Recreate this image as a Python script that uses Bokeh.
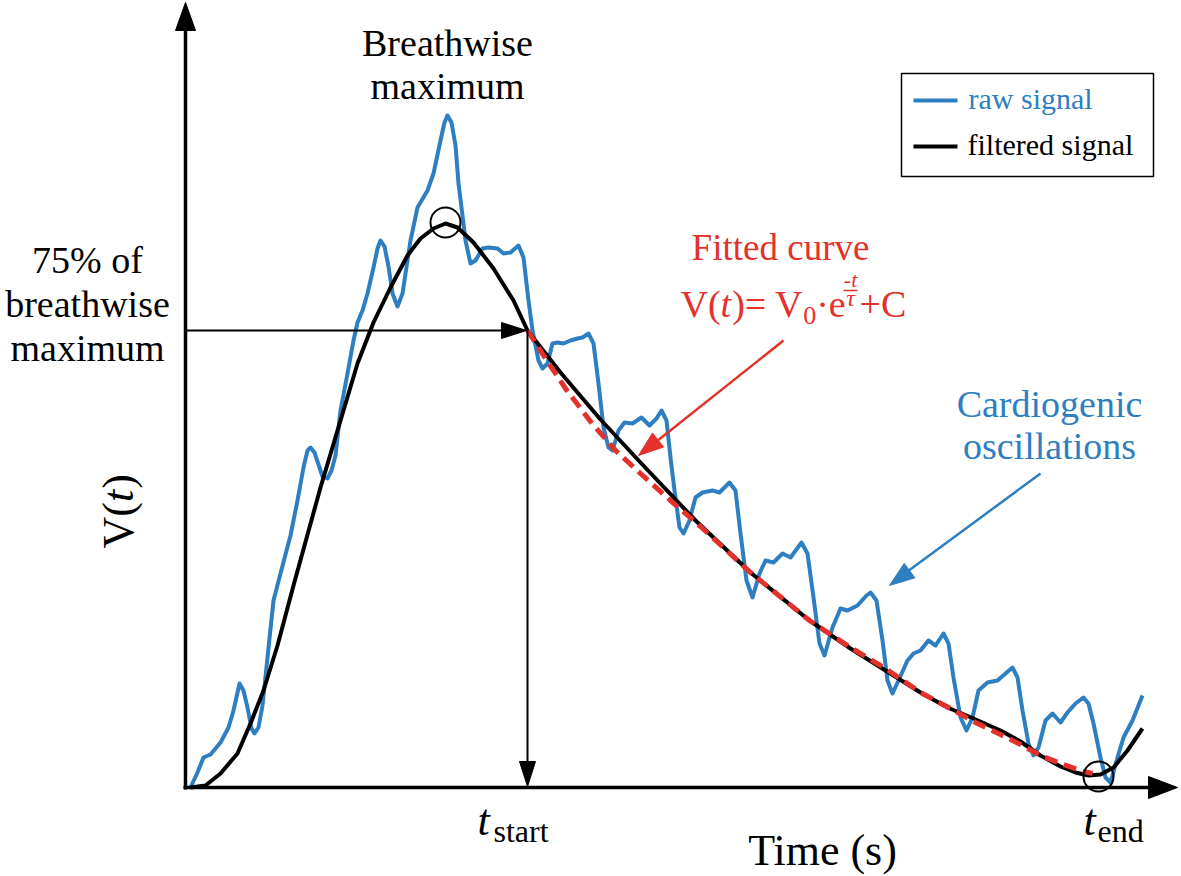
import math
from bokeh.plotting import figure
from bokeh.models import Range1d
from bokeh.core.properties import value
from bokeh.embed import file_html
from bokeh.resources import INLINE

# ---------------- data (arbitrary units: time since breath start, volume above baseline) -------------
raw_time = [5, 12, 18, 25, 35, 43, 48, 54, 58, 62,
            66, 69, 73, 77, 82, 88, 95, 105, 112, 118,
            122, 125, 129, 133, 137, 142, 146, 150, 155, 162,
            168, 172, 177, 182, 188, 192, 195, 199, 203, 207,
            212, 217, 225, 232, 242, 248, 255, 259, 262, 266,
            270, 273, 277, 280, 285, 290, 297, 303, 312, 318,
            325, 333, 338, 343, 347, 350, 353, 357, 362, 367,
            372, 378, 385, 392, 397, 403, 408, 413, 418, 423,
            427, 433, 439, 447, 456, 464, 471, 476, 481, 485,
            489, 494, 498, 504, 510, 517, 527, 534, 544, 550,
            555, 561, 567, 574, 580, 588, 597, 605, 616, 622,
            628, 634, 639, 647, 655, 662, 672, 681, 685, 691,
            697, 702, 707, 713, 722, 728, 735, 743, 750, 758,
            763, 768, 775, 781, 787, 793, 802, 812, 820, 827,
            832, 837, 843, 848, 853, 860, 867, 875, 882, 890,
            898, 903, 908, 915, 920, 925, 932, 938, 947, 957]
raw_volume = [0, 15, 30, 33, 45, 60, 77, 104, 97, 80,
              59, 54, 60, 82, 130, 187, 214, 252, 287, 320,
              337, 340, 335, 323, 311, 309, 317, 332, 377, 414,
              447, 465, 477, 494, 520, 539, 547, 541, 521, 494,
              481, 494, 547, 580, 597, 614, 647, 665, 672, 665,
              642, 604, 572, 547, 524, 527, 539, 540, 539, 534,
              535, 542, 530, 487, 457, 442, 427, 419, 424, 444,
              445, 444, 447, 449, 450, 454, 444, 404, 360, 340,
              337, 357, 365, 364, 370, 362, 369, 377, 367, 330,
              297, 260, 254, 267, 290, 295, 297, 295, 305, 297,
              254, 207, 190, 214, 227, 225, 234, 230, 245, 234,
              190, 144, 132, 160, 179, 177, 182, 192, 195, 187,
              147, 107, 94, 107, 127, 134, 137, 147, 142, 154,
              144, 110, 70, 57, 70, 97, 105, 107, 114, 120,
              110, 77, 44, 32, 40, 67, 74, 65, 75, 84,
              90, 84, 64, 30, 10, 5, 30, 50, 67, 92]

filt_time = [5, 20, 35, 52, 65, 78, 92, 108, 135, 155,
             172, 188, 205, 222, 235, 248, 260, 272, 288, 308,
             328, 342, 375, 415, 455, 510, 565, 624, 665, 700,
             735, 762, 788, 815, 835, 855, 875, 890, 903, 915,
             928, 942, 957]
filt_volume = [0, 2, 14, 34, 64, 97, 142, 202, 300, 367,
               424, 465, 500, 532, 549, 559, 564, 560, 545, 519,
               487, 457, 415, 368, 325, 267, 215, 167, 139, 117,
               95, 80, 69, 57, 46, 32, 21, 15, 12, 13,
               20, 37, 59]

fit_time = [342, 360, 380, 405, 430, 455, 485, 515, 565, 624,
            665, 700, 735, 765, 790, 815, 835, 855, 875, 895, 907]
fit_volume = [457, 429, 399, 366, 337, 314, 287, 261, 215, 167,
              140, 119, 95, 79, 65, 53, 43, 32, 24, 17, 14]

peak_time, peak_volume = 260, 565      # breathwise maximum
start_time, start_volume = 342, 457    # t_start (75 % level)
end_time, end_volume = 913, 11         # t_end

BLUE = "#2E7EC2"
RED = "#E4312B"
FONT = value("Liberation Serif")

W, H = 1181, 876
OX, OY = 185, 787   # canvas pixel position of the axes corner

p = figure(width=W, height=H,
           x_range=Range1d(-OX, W - OX), y_range=Range1d(OY - H, OY),
           x_axis_type=None, y_axis_type=None,
           output_backend="svg", toolbar_location=None,
           min_border=0, min_border_left=0, min_border_right=0,
           min_border_top=0, min_border_bottom=0)
p.grid.visible = False
p.outline_line_color = None
p.background_fill_color = "white"
p.border_fill_color = "white"


def X(px):
    return px - OX


def Y(py):
    return OY - py


def head(tx, ty, dx, dy, length, halfw, color):
    n = math.hypot(dx, dy)
    ux, uy = dx / n, dy / n
    bx, by = tx - ux * length, ty - uy * length
    nx, ny = -uy, ux
    p.patch([tx, bx + nx * halfw, bx - nx * halfw],
            [ty, by + ny * halfw, by - ny * halfw],
            fill_color=color, line_color=color, line_width=1)


SHIFT = 0.34  # compensates where the renderer puts the alphabetic baseline


def txt(px, py, s, size, color="black", align="center", style="normal", rotated=False):
    if rotated:
        x, y, angle = X(px) - SHIFT * size, Y(py), math.pi / 2
    else:
        x, y, angle = X(px), Y(py) + SHIFT * size, 0.0
    p.text(x=[x], y=[y], text=[s], text_font=FONT, text_font_size=value(f"{size}px"),
           text_color=color, text_align=align, text_baseline="alphabetic",
           text_font_style=style, angle=angle)


# ---------------- signals ----------------
p.line(raw_time, raw_volume, line_color=BLUE, line_width=4, line_join="round")
p.line(filt_time, filt_volume, line_color="black", line_width=4, line_join="round")
p.line(fit_time, fit_volume, line_color=RED, line_width=5, line_dash="13 7")

p.scatter([peak_time, end_time], [peak_volume, end_volume], marker="circle", size=30,
          fill_color=None, line_color="black", line_width=2)

# ---------------- 75 % arrows ----------------
p.line([0, start_time - 22], [start_volume, start_volume], line_color="black", line_width=2)
head(start_time - 1, start_volume, 1, 0, 25, 8, "black")
p.line([start_time, start_time], [start_volume, 22], line_color="black", line_width=2)
head(start_time, 1, 0, -1, 25, 8, "black")

# ---------------- axes ----------------
p.line([X(185), X(185)], [Y(789), Y(26)], line_color="black", line_width=3.5)
head(X(185), Y(2), 0, 1, 28, 10, "black")
p.line([X(183), X(1152)], [Y(787), Y(787)], line_color="black", line_width=3.5)
head(X(1177), Y(787), 1, 0, 29, 11, "black")

# ---------------- pointer arrows ----------------
p.line([X(783), X(656)], [Y(340), Y(441)], line_color=RED, line_width=2.5)
head(X(638), Y(455), -145, -115, 25, 9, RED)
p.line([X(1040), X(907)], [Y(473), Y(571)], line_color=BLUE, line_width=2.5)
head(X(889), Y(585), -151, -112, 25, 9, BLUE)

# ---------------- legend ----------------
p.quad(left=[X(901)], right=[X(1153)], top=[Y(73)], bottom=[Y(176)],
       fill_color="white", line_color="black", line_width=1.5)
p.line([X(913), X(957)], [Y(100), Y(100)], line_color=BLUE, line_width=4)
txt(968, 108, "raw signal", 30, BLUE, "left")
p.line([X(913), X(957)], [Y(146), Y(146)], line_color="black", line_width=4)
txt(967, 154, "filtered signal", 30, "black", "left")

# ---------------- annotations ----------------
txt(447, 55, "Breathwise", 38)
txt(447, 98, "maximum", 38)
txt(87, 272, "75% of", 38)
txt(87, 316, "breathwise", 38)
txt(87, 360, "maximum", 38)

txt(1049, 416, "Cardiogenic", 38, BLUE)
txt(1049, 458, "oscillations", 38, BLUE)

txt(780, 260, "Fitted curve", 37, RED)
fs = 38
k = fs / 1000.0
x0 = 680
bl = 316
txt(x0, bl, "V(", fs, RED, "left")
x1 = x0 + (722 + 333) * k
txt(x1, bl, "t", fs, RED, "left", "italic")
x2 = x1 + 278 * k + 1
txt(x2, bl, ")= V", fs, RED, "left")
x3 = x2 + (333 + 564 + 250 + 722) * k
txt(x3, bl + 8, "0", 26, RED, "left")
x4 = x3 + 500 * 0.026
txt(x4, bl, "\u00b7e", fs, RED, "left")
x5 = x4 + (250 + 444) * k
fc = x5 + 8
txt(fc, 286, "-t", 22, RED, "center", "italic")
p.line([X(fc - 7), X(fc + 7)], [Y(290), Y(290)], line_color=RED, line_width=1.5)
txt(fc, 306, "\u03c4", 24, RED, "center", "italic")
txt(fc + 9, bl, "+C", fs, RED, "left")

# y label V(t), rotated (reads bottom to top)
ay = 548
txt(133, ay, "V(", 44, "black", "left", "normal", True)
ay2 = ay - (722 + 333) * 0.044
txt(133, ay2, "t", 44, "black", "left", "italic", True)
ay3 = ay2 - 278 * 0.044 - 1
txt(133, ay3, ")", 44, "black", "left", "normal", True)

# t_start / t_end
txt(477, 835, "t", 44, "black", "left", "italic")
txt(493, 841, "start", 32, "black", "left")
txt(1083, 835, "t", 44, "black", "left", "italic")
txt(1097, 841, "end", 32, "black", "left")

txt(822, 865, "Time (s)", 44)

open("out.html", "w").write(file_html(p, INLINE))
